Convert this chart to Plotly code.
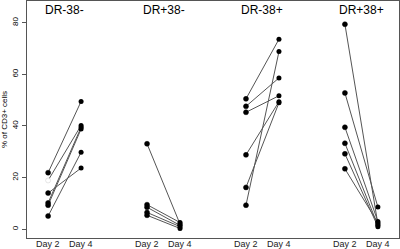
import plotly.graph_objects as go

groups = ["DR-38-", "DR+38-", "DR-38+", "DR+38+"]
day_labels = ["Day 2", "Day 4"]

# paired values (Day 2 -> Day 4) per group
dr38n_day2 = [21.9, 18.9, 14.0, 10.2, 9.3, 5.1]
dr38n_day4 = [49.5, 40.2, 23.7, 39.5, 38.8, 29.8]

drp38n_day2 = [33.1, 9.5, 8.5, 6.5, 5.4]
drp38n_day4 = [2.0, 2.6, 1.5, 1.0, 0.3]

dr38p_day2 = [50.5, 47.6, 45.3, 28.8, 16.2, 9.3]
dr38p_day4 = [73.6, 58.6, 51.7, 49.4, 49.0, 68.8]

drp38p_day2 = [79.4, 52.8, 39.5, 33.3, 29.2, 23.4]
drp38p_day4 = [2.0, 8.6, 3.0, 1.5, 1.0, 2.5]

y_ticks = [0, 20, 40, 60, 80]
y_title = "% of CD3+ cells"

data = [
    (dr38n_day2, dr38n_day4),
    (drp38n_day2, drp38n_day4),
    (dr38p_day2, dr38p_day4),
    (drp38p_day2, drp38p_day4),
]

FONT = "Liberation Sans, Arial"
fig = go.Figure()
for gi, (d2, d4) in enumerate(data):
    x2 = 1 + 3 * gi
    x4 = x2 + 1
    xs, ys = [], []
    for a, b in zip(d2, d4):
        xs += [x2, x4, None]
        ys += [a, b, None]
    fig.add_trace(go.Scatter(x=xs, y=ys, mode="lines",
                             line=dict(color="#555555", width=1),
                             hoverinfo="skip", showlegend=False))
    mcol = ["black"] * len(d2)
    mline = ["black"] * len(d2)
    if gi == 0:
        mcol[1] = "white"
        mline[1] = "#cccccc"
    fig.add_trace(go.Scatter(x=[x2] * len(d2), y=d2, mode="markers",
                             marker=dict(color=mcol, size=5,
                                         line=dict(color=mline, width=0.5)),
                             showlegend=False))
    fig.add_trace(go.Scatter(x=[x4] * len(d4), y=d4, mode="markers",
                             marker=dict(color="black", size=5),
                             showlegend=False))
    fig.add_annotation(x=x2 + 0.5, y=85, text=groups[gi], showarrow=False,
                       font=dict(size=12, color="black", family=FONT),
                       yanchor="middle", xanchor="center")
    for xv, lab in zip([x2, x4], day_labels):
        fig.add_annotation(x=xv, xref="x", y=0, yref="paper", text=lab,
                           showarrow=False, yanchor="top", xanchor="center",
                           yshift=0, borderpad=0,
                           font=dict(size=9, color="#222222", family=FONT))

fig.update_layout(
    width=400, height=249,
    margin=dict(l=27, r=1, t=1, b=11),
    plot_bgcolor="white", paper_bgcolor="white",
    font=dict(family=FONT, color="black"),
    xaxis=dict(range=[0.36, 11.64], showticklabels=False,
               showgrid=False, zeroline=False, showline=True, mirror=True,
               linecolor="#555555", linewidth=1, ticks=""),
    yaxis=dict(range=[-3.4, 88.4], tickvals=y_ticks, showgrid=False,
               zeroline=False, showline=True, mirror=True,
               linecolor="#555555", linewidth=1, ticks="outside",
               ticklen=4, tickcolor="#555555", tickangle=-90,
               tickfont=dict(size=8), ticklabelstandoff=1,
               title=dict(text=y_title, font=dict(size=8), standoff=2)),
)

fig.write_html("out.html", config={"displayModeBar": False},
               post_script="document.body.style.margin='0';"
                           "document.body.style.overflow='hidden';")
